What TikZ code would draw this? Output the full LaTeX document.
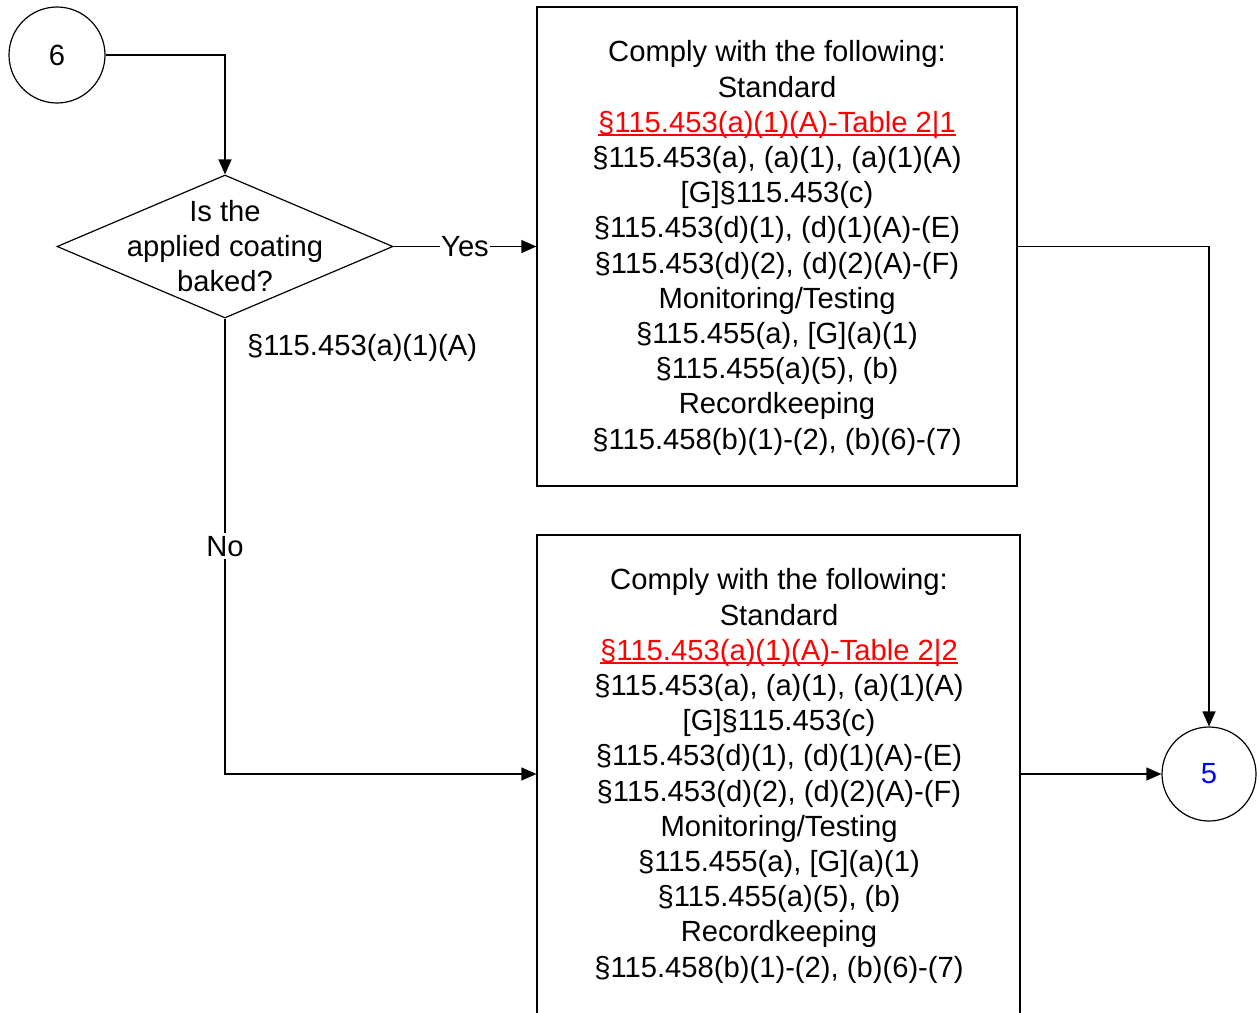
\documentclass[tikz,border=0pt]{standalone}
\usepackage{fontspec}
\setmainfont{Liberation Sans}
\usetikzlibrary{shapes.geometric,arrows.meta}
\newcommand\redul[1]{\setbox0\hbox{#1}\rlap{\color{red}\rule[-3.6pt]{\wd0}{1.6pt}}\box0}
\tikzset{
  every node/.style={font=\fontsize{29.2}{35.2}\selectfont},
  conn/.style={draw=black, line width=1.2pt},
  arr/.style={conn, -{Triangle[length=15pt,width=13pt]}},
  bx/.style={draw=black, line width=1.2pt, rectangle, inner sep=0pt},
  circ/.style={draw=black, line width=1.2pt, circle, inner sep=0pt},
  lbl/.style={fill=white, inner sep=3pt},
  txt/.style={align=center, inner sep=0pt}
}
\begin{document}
\begin{tikzpicture}[x=1pt,y=-1pt]
\useasboundingbox (0,0) rectangle (1257,1012);
\node[circ, minimum size=96pt] (c6) at (57,55) {6};
\node[diamond, draw=black, line width=1.2pt, minimum width=336pt, minimum height=143pt, inner sep=0pt, aspect=2.35] (d) at (225,246.5) {};
\node[txt] (dt) at (225,246) {Is the\\applied coating\\baked?};
\node[bx, minimum width=480pt, minimum height=479pt] (b1) at (777,246.5) {};
\node[txt] (b1t) at (777,248) {Comply with the following:\\Standard\\{\color{red}\redul{§115.453(a)(1)(A)-Table 2|1}}\\§115.453(a), (a)(1), (a)(1)(A)\\{}[G]§115.453(c)\\§115.453(d)(1), (d)(1)(A)-(E)\\§115.453(d)(2), (d)(2)(A)-(F)\\Monitoring/Testing\\§115.455(a), [G](a)(1)\\§115.455(a)(5), (b)\\Recordkeeping\\§115.458(b)(1)-(2), (b)(6)-(7)};
\node[bx, minimum width=483pt, minimum height=480pt] (b2) at (778.5,775) {};
\node[txt] (b2t) at (779,776) {Comply with the following:\\Standard\\{\color{red}\redul{§115.453(a)(1)(A)-Table 2|2}}\\§115.453(a), (a)(1), (a)(1)(A)\\{}[G]§115.453(c)\\§115.453(d)(1), (d)(1)(A)-(E)\\§115.453(d)(2), (d)(2)(A)-(F)\\Monitoring/Testing\\§115.455(a), [G](a)(1)\\§115.455(a)(5), (b)\\Recordkeeping\\§115.458(b)(1)-(2), (b)(6)-(7)};
\node[circ, minimum size=94pt, text=blue] (c5) at (1209,774) {5};
\node[anchor=west, inner sep=0pt] (reg) at (247,348) {§115.453(a)(1)(A)};
\draw[arr] (c6.east) -| (d.north);
\draw[arr] (d.east) -- node[lbl, inner sep=1pt] {Yes} (b1.west);
\draw[arr] (d.south) |- node[lbl, pos=0.25] {No} (b2.west |- c5.west);
\draw[arr] (b1.east) -| (c5.north);
\draw[arr] (b2.east |- c5.west) -- (c5.west);
\end{tikzpicture}
\end{document}
